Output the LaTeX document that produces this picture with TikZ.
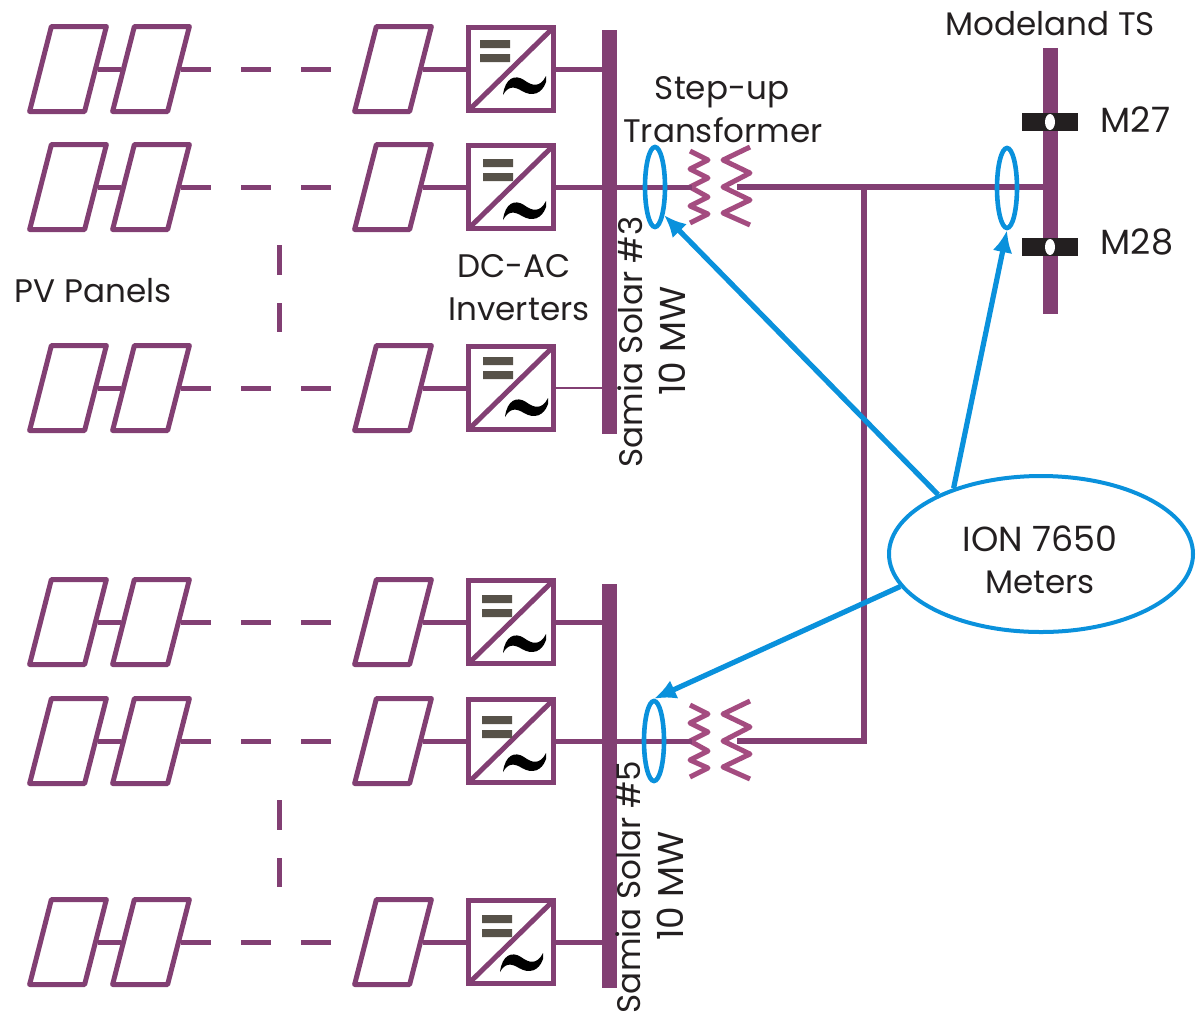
\documentclass[tikz,border=0pt]{standalone}
\usepackage{fontspec}
\setmainfont{Poppins}
\usetikzlibrary{arrows.meta,positioning,shapes.geometric,calc}
\definecolor{buscol}{HTML}{823F73}
\definecolor{coilcol}{HTML}{A44C80}
\definecolor{metercol}{HTML}{0A91DC}
\definecolor{inkcol}{HTML}{231F20}
\definecolor{barcol}{HTML}{575249}
\tikzset{
  panel/.style={draw=buscol,line width=2.5pt,line join=round,xslant=0.256,transform shape,minimum width=27.5pt,minimum height=42.5pt,inner sep=0pt},
  invbox/.style={draw=buscol,line width=2.6pt,minimum width=42.5pt,minimum height=41.5pt,inner sep=0pt},
  feeder/.style={buscol,line width=2.5pt},
  pvdash/.style={buscol,line width=2.5pt,dash pattern=on 15pt off 15pt},
  busbar/.style={fill=buscol,inner sep=0pt,minimum width=7.5pt},
  coil/.style={coilcol,line width=2.5pt,line join=round},
  ct/.style={draw=metercol,ellipse,line width=2.3pt,inner sep=0pt,minimum width=10pt,minimum height=40pt},
  meterline/.style={metercol,line width=2.6pt,-{Latex[length=11pt,width=10pt]}},
  lbl/.style={inner sep=0pt,text=inkcol,font=\fontsize{16.3}{21}\selectfont},
  lblbig/.style={lbl,font=\fontsize{17.5}{21}\selectfont},
  breaker/.style={fill=inkcol,inner sep=0pt,minimum width=28pt,minimum height=9pt},
}
\begin{document}
\begin{tikzpicture}[x=0.5pt,y=-0.5pt]
  \useasboundingbox (0,0) rectangle (1200,1014);
  % busbars
  \node[busbar,minimum height=202pt] (busa) at (609.5,232) {};
  \node[busbar,minimum height=202pt] (busb) at (609,786) {};
  \node[busbar,minimum height=133pt] (busc) at (1050,181) {};
  % PV strings and inverters
  \foreach \r/\t/\b/\w/\e/\f/\g/\h in {1/26/busa/2.5pt/480/14/503/75,2/144/busa/2.5pt/483/15/503/200,3/345/busa/0.6pt/483/12/505/397,4/579/busb/2.5pt/482/16/503/633,5/698/busb/2.5pt/482/18/503/752,6/899/busb/2.5pt/482/16/500/952} {
    \node[panel] (pa\r) at (68,\t+43) {};
    \node[panel] (pb\r) at (151,\t+43) {};
    \node[panel] (pc\r) at (393,\t+43) {};
    \node[invbox] (inv\r) at (511,\t+43) {};
    \coordinate (de\r) at (332,\t+43);
    \draw[feeder] (pa\r.east) -- (pb\r.west);
    \draw[pvdash] (pb\r.east) -- (de\r);
    \draw[feeder] (pc\r.east) -- (inv\r.west);
    \draw[buscol,line width=\w] (inv\r.east) -- (inv\r.east -| \b.center);
    \draw[feeder,shorten >=1.5pt,shorten <=1.5pt] (inv\r.south west) -- (inv\r.north east);
    \fill[barcol] (\e,\t+\f) rectangle ++(30,8) (\e,\t+\f+14) rectangle ++(30,8);
    \fill[black,shift={(\g,\h)}] (0,20) .. controls (2,3) and (12,-1) .. (21,5) .. controls (29,11) and (37,13) .. (43,1) -- (43,7) .. controls (39,19) and (29,22) .. (19,16) .. controls (11,11) and (5,11) .. (0,20) -- cycle;
  }
  % dashes between the strings
  \coordinate (gapa) at (279,245); \coordinate (gapb) at (279,332);
  \coordinate (gapc) at (279,800); \coordinate (gapd) at (279,887);
  \draw[feeder,dash pattern=on 15pt off 14pt] (gapa) -- (gapb);
  \draw[feeder,dash pattern=on 15pt off 14pt] (gapc) -- (gapd);
  % transformers
  \foreach \n/\y in {a/187,b/741} {
    \draw[coil] (690,\y-36) -- (708,\y-27) -- (690,\y-18) -- (708,\y-9) -- (690,\y) -- (708,\y+10) -- (690,\y+19) -- (708,\y+27) -- (690,\y+36);
    \draw[coil] (750,\y-40) -- (723,\y-27) -- (750,\y-14) -- (723,\y) -- (750,\y+13) -- (723,\y+26) -- (750,\y+38);
    \coordinate (xl\n) at (692,\y); \coordinate (xr\n) at (737,\y);
  }
  \coordinate (tee) at (864,187);
  \draw[feeder] (busa.center |- xla) -- (xla);
  \draw[feeder] (busb.center |- xlb) -- (xlb);
  \draw[buscol,line width=2.8pt] (xra) -- (xra -| busc.center);
  \draw[feeder,line width=2.7pt,line join=miter] (tee) -- (tee |- xrb) -- (xrb);
  % breakers at the station
  \node[breaker] (brk) at (1050,122) {};
  \node[breaker] (brl) at (1050,247) {};
  \fill[white] (brk) ellipse (2.5pt and 4pt) (brl) ellipse (2.5pt and 4pt);
  \node[lblbig,right=11pt of brk.east,yshift=1pt] (mx) {M27};
  \node[lblbig,right=11pt of brl.east,yshift=2.5pt] (my) {M28};
  % meters
  \node[ct] (cta) at (655,187) {};
  \node[ct] (ctb) at (1007,188) {};
  \node[ct] (ctc) at (654,741) {};
  \node[draw=metercol,ellipse,line width=2pt,minimum width=152pt,minimum height=78pt,inner sep=0pt] (meters) at (1041,554) {};
  \node[lbl,align=center] (metertxt) at (1040,560) {{\fontsize{17.4}{21}\selectfont ION 7650}\\Meters};
  \draw[meterline] (meters.150) -- (cta.-72);
  \draw[meterline] (meters.143) -- (ctb.south);
  \draw[meterline] (meters.193) -- (ctc.north);
  % labels
  \node[lbl] (ts) at (1050,24) {Modeland TS};
  \node[lbl] (su) at (722,92) {Step-up};
  \node[lbl] (tf) at (723,130) {Transformer};
  \node[lbl] (pv) at (93,291) {PV Panels};
  \node[lbl] (dc) at (514,266) {DC-AC};
  \node[lbl] (in) at (519,309) {Inverters};
  \node[lbl,rotate=90] (sa) at (630,342) {Samia Solar \#3};
  \node[lblbig,rotate=90,font=\fontsize{18}{21}\selectfont] (ma) at (672,341) {10 MW};
  \node[lbl,rotate=90] (sb) at (628,887) {Samia Solar \#5};
  \node[lblbig,rotate=90,font=\fontsize{18}{21}\selectfont] (mb) at (670,886) {10 MW};
\end{tikzpicture}
\end{document}
